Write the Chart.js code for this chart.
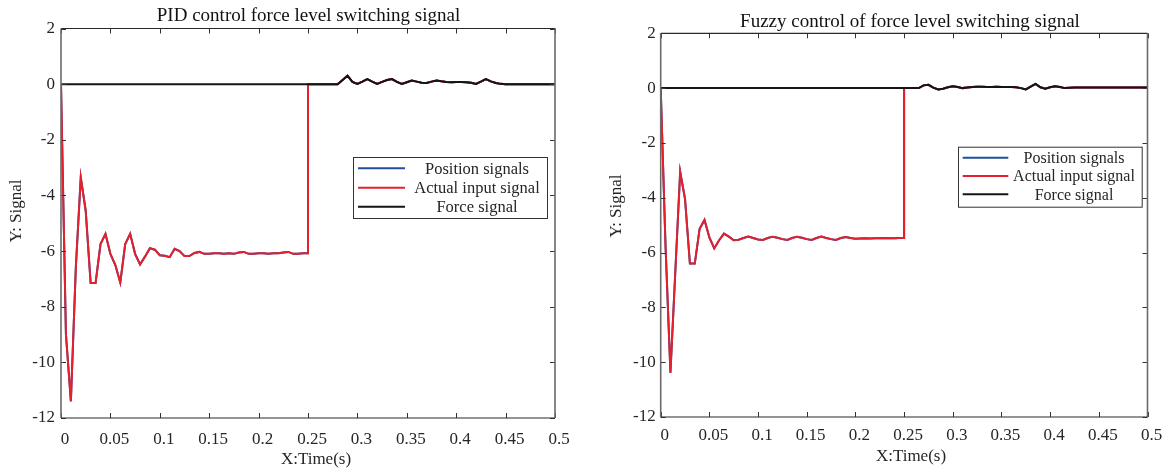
<!DOCTYPE html>
<html><head><meta charset="utf-8">
<script src="https://cdn.jsdelivr.net/npm/chart.js@4.4.1/dist/chart.umd.min.js"></script>
<style>
html,body{margin:0;padding:0;background:#fff;}
#wrap{position:relative;width:1167px;height:468px;overflow:hidden;background:#fff;}
canvas{position:absolute;top:0;}
</style></head><body>
<div id="wrap">
<canvas id="c1" width="583" height="468" style="left:0px"></canvas>
<canvas id="c2" width="584" height="468" style="left:583px"></canvas>
</div>
<script>
// ---------- data ----------
const time = [
0,0.005,0.01,0.015,0.02,0.025,0.03,0.035,0.04,0.045,
0.05,0.055,0.06,0.065,0.07,0.075,0.08,0.085,0.09,0.095,
0.1,0.105,0.11,0.115,0.12,0.125,0.13,0.135,0.14,0.145,
0.15,0.155,0.16,0.165,0.17,0.175,0.18,0.185,0.19,0.195,
0.2,0.205,0.21,0.215,0.22,0.225,0.23,0.235,0.24,0.245,
0.25,0.25,
0.255,0.26,0.265,0.27,0.275,0.28,0.285,0.29,0.295,0.3,
0.305,0.31,0.315,0.32,0.325,0.33,0.335,0.34,0.345,0.35,
0.355,0.36,0.365,0.37,0.375,0.38,0.385,0.39,0.395,0.4,
0.405,0.41,0.415,0.42,0.425,0.43,0.435,0.44,0.445,0.45,
0.455,0.46,0.465,0.47,0.475,0.48,0.485,0.49,0.495,0.5];

const xTickValues = [0,0.05,0.1,0.15,0.2,0.25,0.3,0.35,0.4,0.45,0.5];
const xTickLabels = ['0','0.05','0.1','0.15','0.2','0.25','0.3','0.35','0.4','0.45','0.5'];
const yTickValues = [-12,-10,-8,-6,-4,-2,0,2];
const yTickLabels = ['-12','-10','-8','-6','-4','-2','0','2'];

const seriesNames = ['Position signals','Actual input signal','Force signal'];
const seriesColors = ['#1f4f9e','#e3202b','#141414'];

const pidActual = [
0,-9.0,-11.4,-6.6,-3.35,-4.55,-7.15,-7.15,-5.75,-5.38,
-6.1,-6.5,-7.13,-5.75,-5.38,-6.1,-6.48,-6.2,-5.9,-5.95,
-6.15,-6.17,-6.22,-5.92,-6.0,-6.18,-6.18,-6.07,-6.03,-6.1,
-6.1,-6.08,-6.08,-6.1,-6.08,-6.1,-6.05,-6.03,-6.1,-6.1,
-6.08,-6.08,-6.1,-6.08,-6.08,-6.05,-6.03,-6.1,-6.1,-6.08,
-6.08,0,
0,0,0,0,0,0,0.15,0.3,0.08,0.01,
0.09,0.18,0.09,0.01,0.08,0.15,0.18,0.08,0.01,0.07,
0.13,0.09,0.05,0.04,0.09,0.13,0.1,0.08,0.07,0.08,
0.08,0.07,0.05,0.01,0.09,0.18,0.1,0.04,0.01,0,
0,0,0,0,0,0,0,0,0,0];
const pidPosition = pidActual.slice();
const pidForce = [
0,0,0,0,0,0,0,0,0,0,
0,0,0,0,0,0,0,0,0,0,
0,0,0,0,0,0,0,0,0,0,
0,0,0,0,0,0,0,0,0,0,
0,0,0,0,0,0,0,0,0,0,
0,0,
0,0,0,0,0,0,0.15,0.3,0.08,0.01,
0.09,0.18,0.09,0.01,0.08,0.15,0.18,0.08,0.01,0.07,
0.13,0.09,0.05,0.04,0.09,0.13,0.1,0.08,0.07,0.08,
0.08,0.07,0.05,0.01,0.09,0.18,0.1,0.04,0.01,0,
0,0,0,0,0,0,0,0,0,0];

const fuzzyActual = [
0,-5.8,-10.38,-6.7,-3.05,-4.05,-6.4,-6.4,-5.13,-4.81,
-5.45,-5.85,-5.55,-5.31,-5.42,-5.55,-5.53,-5.47,-5.42,-5.47,
-5.52,-5.54,-5.47,-5.42,-5.46,-5.51,-5.54,-5.47,-5.42,-5.46,
-5.51,-5.54,-5.47,-5.42,-5.47,-5.51,-5.54,-5.47,-5.43,-5.47,
-5.5,-5.49,-5.48,-5.49,-5.48,-5.48,-5.47,-5.48,-5.48,-5.47,
-5.47,0,
0,0,0,0.1,0.12,0.02,-0.05,-0.02,0.03,0.07,
0.04,0,0.02,0.04,0.05,0.05,0.04,0.04,0.05,0.04,
0.04,0.04,0.03,0,-0.05,0.05,0.15,0.03,-0.02,0.03,
0.07,0.04,0,0.01,0.02,0.02,0.02,0.02,0.02,0.02,
0.02,0.02,0.02,0.02,0.02,0.02,0.02,0.02,0.02,0.02];
const fuzzyPosition = fuzzyActual.slice();
const fuzzyForce = [
0,0,0,0,0,0,0,0,0,0,
0,0,0,0,0,0,0,0,0,0,
0,0,0,0,0,0,0,0,0,0,
0,0,0,0,0,0,0,0,0,0,
0,0,0,0,0,0,0,0,0,0,
0,0,
0,0,0,0.1,0.12,0.02,-0.05,-0.02,0.03,0.07,
0.04,0,0.02,0.04,0.05,0.05,0.04,0.04,0.05,0.04,
0.04,0.04,0.03,0,-0.05,0.05,0.15,0.03,-0.02,0.03,
0.07,0.04,0,0.01,0.02,0.02,0.02,0.02,0.02,0.02,
0.02,0.02,0.02,0.02,0.02,0.02,0.02,0.02,0.02,0.02];

// ---------- drawing ----------
const FONT = '"Liberation Serif", "Times New Roman", serif';
const TXT = '#262626';

const framePlugin = {
  id: 'frame',
  afterDraw(chart, args, o) {
    const {ctx, chartArea: a, scales} = chart;
    ctx.save();
    const line = (x1,y1,x2,y2) => { ctx.beginPath(); ctx.moveTo(x1,y1); ctx.lineTo(x2,y2); ctx.stroke(); };
    // inward tick marks
    ctx.strokeStyle = '#333'; ctx.lineWidth = 1;
    xTickValues.forEach(v => {
      const px = Math.round(scales.x.getPixelForValue(v)) + 0.5;
      line(px, a.bottom, px, a.bottom - 5);
      line(px, a.top, px, a.top + 5);
    });
    yTickValues.forEach(v => {
      const py = Math.round(scales.y.getPixelForValue(v)) + 0.5;
      line(a.left, py, a.left + 5, py);
      line(a.right, py, a.right - 5, py);
    });
    // box
    ctx.strokeStyle = '#2b2b2b'; ctx.lineWidth = 1.2;
    line(a.left, a.top, a.right, a.top);
    line(a.left, a.bottom, a.right, a.bottom);
    ctx.strokeStyle = '#6a6a6a'; ctx.lineWidth = 1.6;
    line(a.left, a.top, a.left, a.bottom);
    line(a.right, a.top, a.right, a.bottom);
    // legend
    const lg = o.legend;
    ctx.fillStyle = '#fff';
    ctx.fillRect(lg.x, lg.y, lg.w, lg.h);
    ctx.strokeStyle = '#333'; ctx.lineWidth = 1;
    ctx.strokeRect(lg.x + 0.5, lg.y + 0.5, lg.w, lg.h);
    ctx.font = lg.fontSize + 'px ' + FONT;
    ctx.textAlign = 'center'; ctx.textBaseline = 'middle';
    chart.data.datasets.forEach((ds, i) => {
      const ry = lg.rows[i];
      ctx.strokeStyle = ds.borderColor; ctx.lineWidth = 2;
      line(lg.lx1, ry, lg.lx2, ry);
      ctx.fillStyle = TXT;
      ctx.fillText(ds.label, lg.tx, ry + 1);
    });
    // title
    ctx.fillStyle = '#111';
    ctx.font = o.titleSize + 'px ' + FONT;
    ctx.fillText(o.title, o.titleX, o.titleY);
    // axis labels
    ctx.fillStyle = TXT;
    ctx.font = '17px ' + FONT;
    ctx.fillText(o.xLabel, o.xLabelX, o.xLabelY);
    ctx.translate(o.yLabelX, o.yLabelY);
    ctx.rotate(-Math.PI / 2);
    ctx.fillText(o.yLabel, 0, 0);
    ctx.restore();
  }
};

function makeChart(id, series, cfg) {
  return new Chart(document.getElementById(id), {
    type: 'line',
    data: {
      datasets: series.map((s, i) => ({
        label: seriesNames[i],
        data: time.map((t, k) => ({x: t, y: s[k]})),
        borderColor: seriesColors[i],
        borderWidth: 2,
        pointRadius: 0,
        tension: 0,
        fill: false,
        order: 2 - i
      }))
    },
    options: {
      responsive: false,
      animation: false,
      devicePixelRatio: 1,
      layout: {padding: cfg.padding},
      plugins: {legend: {display: false}, tooltip: {enabled: false}, title: {display: false}, frame: cfg.frame},
      scales: {
        x: {
          type: 'linear', min: 0, max: 0.5,
          afterFit(s) { s.height = cfg.xHeight; },
          afterBuildTicks(s) { s.ticks = xTickValues.map(v => ({value: v})); },
          ticks: {autoSkip: false, maxRotation: 0, padding: cfg.xPad, labelOffset: 4, color: TXT,
                  font: {family: FONT, size: 17},
                  callback: (v) => xTickLabels[xTickValues.indexOf(v)]},
          grid: {display: false, drawTicks: false},
          border: {display: false}
        },
        y: {
          type: 'linear', min: -12, max: 2,
          afterFit(s) { s.width = cfg.yWidth; },
          afterBuildTicks(s) { s.ticks = yTickValues.map(v => ({value: v})); },
          ticks: {autoSkip: false, padding: cfg.yPad, color: TXT,
                  font: {family: FONT, size: 17},
                  callback: (v) => yTickLabels[yTickValues.indexOf(v)]},
          grid: {display: false, drawTicks: false},
          border: {display: false}
        }
      }
    },
    plugins: [framePlugin]
  });
}

makeChart('c1', [pidPosition, pidActual, pidForce], {
  padding: {left: 0, right: 28, top: 28.5, bottom: 0},
  xHeight: 50, yWidth: 61, xPad: 11, yPad: 6,
  frame: {
    title: 'PID control force level switching signal', titleSize: 19, titleX: 308.5, titleY: 16.5,
    xLabel: 'X:Time(s)', xLabelX: 316, xLabelY: 460,
    yLabel: 'Y: Signal', yLabelX: 17, yLabelY: 211,
    legend: {x: 353, y: 157, w: 194, h: 61, rows: [168.3, 187.7, 206.7], lx1: 358, lx2: 405, tx: 477, fontSize: 16.5}
  }
});

makeChart('c2', [fuzzyPosition, fuzzyActual, fuzzyForce], {
  padding: {left: 0, right: 19.5, top: 33.3, bottom: 0},
  xHeight: 51, yWidth: 77.7, xPad: 8.5, yPad: 5,
  frame: {
    title: 'Fuzzy control of force level switching signal', titleSize: 19, titleX: 327, titleY: 22.5,
    xLabel: 'X:Time(s)', xLabelX: 328, xLabelY: 457,
    yLabel: 'Y: Signal', yLabelX: 34, yLabelY: 206,
    legend: {x: 375, y: 146.7, w: 183.7, h: 60, rows: [157.7, 176, 194.3], lx1: 379.7, lx2: 425.3, tx: 491, fontSize: 16}
  }
});
</script>
</body></html>
